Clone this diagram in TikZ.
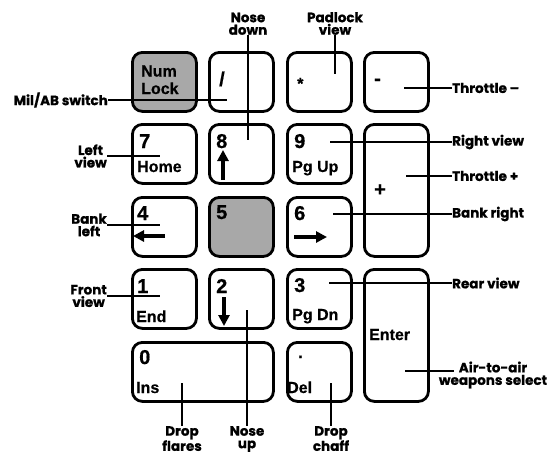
\documentclass[tikz,border=0pt]{standalone}
\usepackage{fontspec}
\setmainfont{Liberation Sans}[BoldFeatures={FakeBold=0.6}]
\newfontfamily\annfont{Poppins}[BoldFeatures={FakeBold=0.8}]
\usetikzlibrary{arrows.meta,calc}
\definecolor{keygray}{HTML}{A8A8A8}
\begin{document}
\begin{tikzpicture}[x=1pt,y=-1pt,
  key/.style={draw, line width=2.8pt, rounded corners=10pt, inner sep=0pt, anchor=north west,
    minimum width=64pt, minimum height=59pt},
  graykey/.style={key, fill=keygray},
  digit/.style={anchor=base west, inner sep=0pt, font=\fontsize{20}{20}\selectfont\bfseries},
  klabel/.style={anchor=base west, inner sep=0pt, font=\fontsize{16}{17.5}\selectfont\bfseries, align=left},
  ann/.style={inner sep=0pt, font=\annfont\fontsize{13.5}{12.5}\selectfont\bfseries, align=center},
  leader/.style={line width=2pt},
  keyarrow/.style={line width=3.2pt, -{Triangle[length=11pt,width=11pt]}}
]
\useasboundingbox (0,0) rectangle (550,456);

% keys
\node[graykey] (numlock) at (131,51) {};
\node[key] (slash) at (208,51) {};
\node[key] (star) at (286,51) {};
\node[key] (minus) at (363,51) {};
\node[key] (k7) at (131,123) {};
\node[key] (k8) at (208,123) {};
\node[key] (k9) at (286,123) {};
\node[key, minimum height=132pt] (plus) at (363,123) {};
\node[key] (k4) at (131,196) {};
\node[graykey] (k5) at (208,196) {};
\node[key] (k6) at (286,196) {};
\node[key] (k1) at (131,268) {};
\node[key] (k2) at (208,268) {};
\node[key] (k3) at (286,268) {};
\node[key, minimum height=132pt] (enter) at (363,268) {};
\node[key, minimum width=141pt] (k0) at (131,341) {};
\node[key] (del) at (286,341) {};

% key texts
\node[klabel] (tnum) at (141,94) {Num\\Lock};
\node[digit] (tslash) at (219,86) {/};
\node[klabel] (tstar) at (297,89) {*};
\node[digit] (tminus) at (374,85) {-};
\node[digit] (t7) at (139,148) {7};
\node[klabel] (thome) at (137,172) {Home};
\node[digit] (t8) at (216,148) {8};
\node[digit] (t9) at (294,148) {9};
\node[klabel] (tpgup) at (292,172) {Pg Up};
\node[digit] (tplus) at (374,196) {+};
\node[digit] (t4) at (137,220) {4};
\node[digit] (t5) at (216,219) {5};
\node[digit] (t6) at (294,220) {6};
\node[digit] (t1) at (137,293) {1};
\node[klabel] (tend) at (136,322) {End};
\node[digit] (t2) at (216,293) {2};
\node[digit] (t3) at (294,292) {3};
\node[klabel] (tpgdn) at (292,320) {Pg Dn};
\node[klabel] (tenter) at (369,340) {Enter};
\node[digit] (t0) at (139,364) {0};
\node[klabel] (tins) at (136,393) {Ins};
\node[klabel] (tdot) at (298,358) {.};
\node[klabel] (tdel) at (287,393) {Del};

% arrows in keys
\coordinate (a8s) at (223,180); \coordinate (a8e) at (223,150);
\draw[keyarrow] (a8s) -- (a8e);
\coordinate (a4s) at (165,236); \coordinate (a4e) at (133,236);
\draw[keyarrow] (a4s) -- (a4e);
\coordinate (a6s) at (294,237); \coordinate (a6e) at (327,237);
\draw[keyarrow] (a6s) -- (a6e);
\coordinate (a2s) at (224,297); \coordinate (a2e) at (224,326);
\draw[keyarrow] (a2s) -- (a2e);

% annotations
\node[ann, anchor=east] (milab) at (108,100) {Mil/AB switch};
\coordinate (milabE) at (227,100);
\draw[leader] (milab.east) -- (milabE);

\node[ann, anchor=south] (nosedown) at (248,35) {Nose\\down};
\coordinate (ndE) at (248,140);
\draw[leader] (nosedown.south) -- (ndE);

\node[ann, anchor=south] (padlock) at (335,35) {Padlock\\view};
\coordinate (plE) at (335,74);
\draw[leader] (padlock.south) -- (plE);

\node[ann, anchor=west] (thrminus) at (452,88) {Throttle –};
\coordinate (tmE) at (404,88);
\draw[leader] (tmE) -- (thrminus.west);

\node[ann, anchor=east] (leftview) at (107,156) {Left\\view};
\coordinate (lvE) at (160,156);
\draw[leader] (leftview.east) -- (lvE);

\node[ann, anchor=east] (bankleft) at (107,225) {Bank\\left};
\coordinate (blE) at (160,225);
\draw[leader] (bankleft.east) -- (blE);

\node[ann, anchor=east] (frontview) at (107,296) {Front\\view};
\coordinate (fvE) at (160,296);
\draw[leader] (frontview.east) -- (fvE);

\node[ann, anchor=west] (rightview) at (452,142) {Right view};
\coordinate (rvE) at (330,142);
\draw[leader] (rvE) -- (rightview.west);

\node[ann, anchor=west] (thrplus) at (452,176) {Throttle +};
\coordinate (tpE) at (406,176);
\draw[leader] (tpE) -- (thrplus.west);

\node[ann, anchor=west] (bankright) at (452,214) {Bank right};
\coordinate (brE) at (333,214);
\draw[leader] (brE) -- (bankright.west);

\node[ann, anchor=west] (rearview) at (452,283) {Rear view};
\coordinate (rearE) at (329,283);
\draw[leader] (rearE) -- (rearview.west);

\node[ann] (airtoair) at (493,375) {Air-to-air\\weapons select};
\coordinate (ataE) at (405,371);
\coordinate (ataX) at ($(airtoair.west)+(15,0)$);
\draw[leader] (ataE) -- (ataE -| ataX);

\node[ann, anchor=north] (dropflares) at (182,426) {Drop\\flares};
\coordinate (dfE) at (182,383);
\draw[leader] (dfE) -- (dropflares.north);

\node[ann, anchor=north] (noseup) at (247,426) {Nose\\up};
\coordinate (nuE) at (247,310);
\draw[leader] (nuE) -- (noseup.north);

\node[ann, anchor=north] (dropchaff) at (331,426) {Drop\\chaff};
\coordinate (dcE) at (331,383);
\draw[leader] (dcE) -- (dropchaff.north);
\end{tikzpicture}
\end{document}
